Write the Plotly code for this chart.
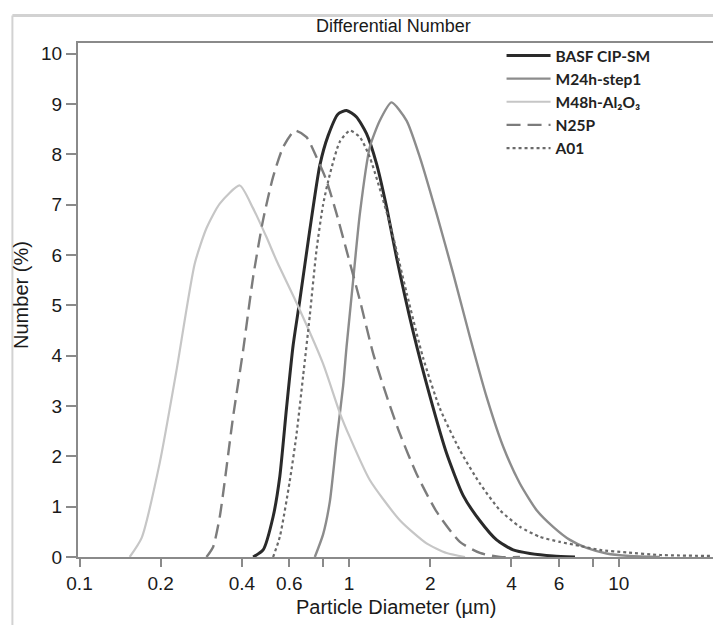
import plotly.graph_objects as go

# Differential number distributions (particle diameter in µm, number in %)
basf_d = [0.4404, 0.4797, 0.5224, 0.5532, 0.5856, 0.6197, 0.6563, 0.7148, 0.7785, 0.8358,
          0.9103, 0.978, 1.065, 1.160, 1.264, 1.377, 1.499, 1.728, 1.992, 2.298, 2.649,
          3.055, 3.523, 4.059, 4.683, 5.71, 6.88]
basf_n = [0, 0.14, 0.8, 1.6, 2.95, 4.2, 5.1, 6.5, 7.78, 8.37,
          8.8, 8.87, 8.74, 8.41, 7.81, 6.95, 5.95, 4.47, 3.2, 2.06, 1.22,
          0.72, 0.34, 0.14, 0.07, 0.02, 0]

m24_d = [0.746, 0.8006, 0.848, 0.898, 0.950, 0.978, 1.035, 1.096, 1.193, 1.300, 1.436,
         1.633, 1.830, 2.110, 2.432, 2.805, 3.234, 3.728, 4.298, 4.960, 5.71, 6.59,
         7.60, 9.02, 11.0, 14.2]
m24_n = [0, 0.45, 1.1, 2.3, 3.4, 4.17, 5.5, 6.82, 8.14, 8.67, 9.03,
         8.67, 7.94, 6.82, 5.63, 4.37, 3.18, 2.19, 1.46, 0.93, 0.6, 0.34,
         0.18, 0.07, 0.02, 0]

m48_d = [0.1535, 0.170, 0.1984, 0.229, 0.2676, 0.2957, 0.3313, 0.393, 0.439, 0.494,
         0.5377, 0.638, 0.799, 0.924, 1.006, 1.193, 1.542, 1.937, 2.298, 2.69]
m48_n = [0, 0.38, 1.87, 3.71, 5.83, 6.53, 7.02, 7.38, 6.94, 6.35,
         5.89, 5.05, 3.85, 2.86, 2.38, 1.53, 0.73, 0.27, 0.08, 0]

n25_d = [0.2958, 0.313, 0.3313, 0.3711, 0.4043, 0.4404, 0.4797, 0.5224, 0.569, 0.6286,
         0.695, 0.757, 0.824, 0.898, 0.978, 1.096, 1.228, 1.377, 1.542, 1.779, 2.110,
         2.575, 3.055, 3.624, 4.3]
n25_n = [0, 0.2, 0.8, 2.78, 4.1, 5.56, 6.7, 7.55, 8.14, 8.47,
         8.34, 7.94, 7.48, 6.82, 6.09, 5.1, 4.04, 3.2, 2.45, 1.65, 0.9,
         0.3, 0.08, 0.0, 0]

a01_d = [0.5224, 0.5532, 0.6019, 0.6384, 0.6752, 0.7148, 0.7569, 0.8006, 0.848, 0.9234,
         1.006, 1.096, 1.193, 1.416, 1.633, 1.882, 2.171, 2.575, 3.055, 3.624, 4.298,
         5.101, 6.05, 7.18, 8.515, 10.70, 14.22, 22.4]
a01_n = [0, 0.4, 1.5, 2.45, 3.6, 4.8, 6.1, 7.0, 7.6, 8.25,
         8.47, 8.34, 7.94, 6.62, 5.25, 3.95, 2.95, 2.12, 1.46, 0.93, 0.6,
         0.4, 0.3, 0.22, 0.14, 0.09, 0.04, 0.02]

x_ticks = [0.1, 0.2, 0.4, 0.6, 0.8, 1, 2, 4, 6, 8, 10]
x_tick_text = ["0.1", "0.2", "0.4", "0.6", "", "1", "2", "4", "6", "", "10"]
y_ticks = list(range(0, 11))

series = [
    ("BASF CIP-SM", basf_d, basf_n, "#2a2a2a", 3.0, "solid"),
    ("M24h-step1", m24_d, m24_n, "#8c8c8c", 2.4, "solid"),
    ("M48h-Al₂O₃", m48_d, m48_n, "#c6c6c6", 2.2, "solid"),
    ("N25P", n25_d, n25_n, "#7c7c7c", 2.4, "14px,7px"),
    ("A01", a01_d, a01_n, "#6a6a6a", 2.2, "3px,3px"),
]

fig = go.Figure()
for name, d, n, color, width, dash in series:
    fig.add_trace(go.Scatter(
        x=d, y=n, name=name, mode="lines",
        line=dict(color=color, width=width, dash=dash, shape="spline", smoothing=0.6),
    ))

axis_grey = "#8a8a8a"
tick_font = dict(family="Liberation Sans, Arial, sans-serif", size=19, color="#1a1a1a")

fig.update_layout(
    width=713, height=625,
    margin=dict(l=78, r=0, t=43, b=68),
    paper_bgcolor="white", plot_bgcolor="white",
    showlegend=True,
    legend=dict(
        x=0.667, y=1.008, xanchor="left", yanchor="top",
        bgcolor="rgba(0,0,0,0)", borderwidth=0,
        font=dict(family="Lato, Carlito, sans-serif", size=15.5, color="#222222", weight="bold"),
        itemwidth=44,
        tracegroupgap=0,
    ),
    xaxis=dict(
        type="log", range=[-1.0056, 1.3495],
        tickmode="array", tickvals=x_ticks, ticktext=x_tick_text,
        ticks="outside", ticklen=8, tickwidth=2, tickcolor=axis_grey,
        showline=True, linecolor=axis_grey, linewidth=2, mirror=True,
        showgrid=False, zeroline=False, tickfont=tick_font,
    ),
    yaxis=dict(
        range=[0, 10.21],
        tickmode="array", tickvals=y_ticks,
        ticks="outside", ticklen=10, tickwidth=2, tickcolor=axis_grey,
        showline=True, linecolor=axis_grey, linewidth=2,
        showgrid=False, zeroline=False, tickfont=tick_font,
    ),
)

# light outer frame around the figure
frame = "#d2d2d2"
fig.add_shape(type="line", xref="paper", yref="paper", x0=-0.1033, x1=1.2, y0=1.0536, y1=1.0536,
              line=dict(color=frame, width=3))
fig.add_shape(type="line", xref="paper", yref="paper", x0=-0.1033, x1=-0.1033, y0=-0.2, y1=1.0536,
              line=dict(color=frame, width=2))

label_font = dict(family="Liberation Sans, Arial, sans-serif", size=20, color="#1a1a1a")
fig.add_annotation(text="Differential Number", xref="paper", yref="paper", x=0.497, y=1.0335,
                   xanchor="center", yanchor="middle", showarrow=False,
                   font=dict(family="Liberation Sans, Arial, sans-serif", size=18, color="#1a1a1a"))
fig.add_annotation(text="Particle Diameter (µm)", xref="paper", yref="paper", x=0.5, y=-0.0973,
                   xanchor="center", yanchor="middle", showarrow=False, font=label_font)
fig.add_annotation(text="Number (%)", xref="paper", yref="paper", x=-0.09, y=0.5095,
                   xanchor="center", yanchor="middle", showarrow=False, textangle=-90, font=label_font)

fig.write_html("out.html")
